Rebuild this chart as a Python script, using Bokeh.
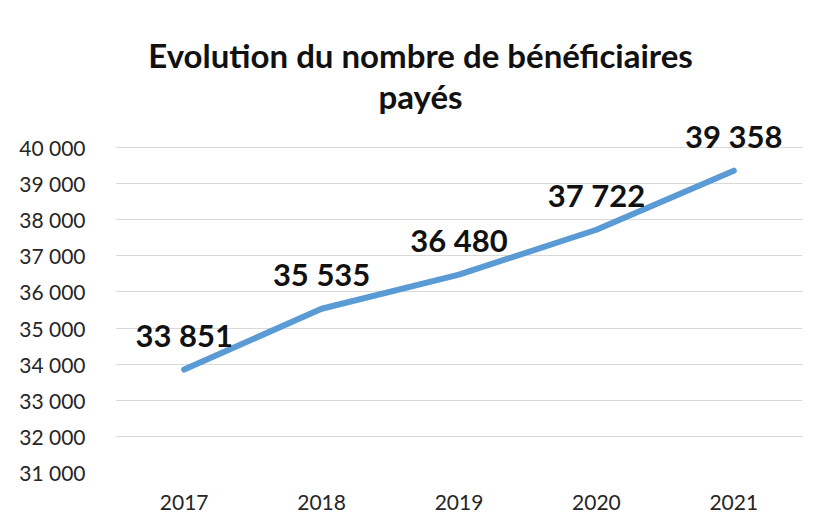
from bokeh.plotting import figure
from bokeh.models import ColumnDataSource, FactorRange, Range1d, Label, FixedTicker, CustomJSTickFormatter
from bokeh.core.properties import value
from bokeh.embed import file_html
from bokeh.resources import INLINE

years = ["2017", "2018", "2019", "2020", "2021"]
beneficiaires = [33851, 35535, 36480, 37722, 39358]
labels = ["33 851", "35 535", "36 480", "37 722", "39 358"]
y_ticks = [31000, 32000, 33000, 34000, 35000, 36000, 37000, 38000, 39000, 40000]
title_lines = ["Evolution du nombre de bénéficiaires", "payés"]

FONT = "Lato"

src = ColumnDataSource(dict(x=years, y=beneficiaires, lab=labels))

p = figure(width=810, height=519, x_range=FactorRange(*years, range_padding=0),
           y_range=Range1d(31000, 43517), output_backend="svg", toolbar_location=None,
           min_border_left=115, min_border_right=8, min_border_top=20, min_border_bottom=47)
p.outline_line_color = None
p.background_fill_color = "white"
p.border_fill_color = "white"

p.line("x", "y", source=src, line_color="#5B9BD5", line_width=6, line_cap="round", line_join="round")
p.text("x", "y", text="lab", source=src, text_font=value(FONT), text_font_style="bold",
       text_font_size="31px", text_color="#111111", text_align="center", text_baseline="middle",
       y_offset=-35)

p.xgrid.grid_line_color = None
p.ygrid.grid_line_color = "#D9D9D9"
p.ygrid.grid_line_width = 1
p.yaxis.ticker = FixedTicker(ticks=y_ticks)
p.yaxis.formatter = CustomJSTickFormatter(code="return tick.toLocaleString('fr-FR').replace(/\\s/g, ' ');")
for ax in (p.xaxis, p.yaxis):
    ax.axis_line_color = None
    ax.major_tick_line_color = None
    ax.minor_tick_line_color = None
    ax.major_label_text_font = FONT
    ax.major_label_text_font_size = "21px"
    ax.major_label_text_color = "#262626"
p.yaxis.major_label_standoff = 24
p.xaxis.major_label_standoff = 16

for txt, yv in zip(title_lines, [42560, 41420]):
    p.add_layout(Label(x=2.22, y=yv, text=txt, text_font=FONT, text_font_style="bold",
                       text_font_size="33px", text_color="#111111",
                       text_align="center", text_baseline="middle"))

open("out.html", "w").write(file_html(p, INLINE))
